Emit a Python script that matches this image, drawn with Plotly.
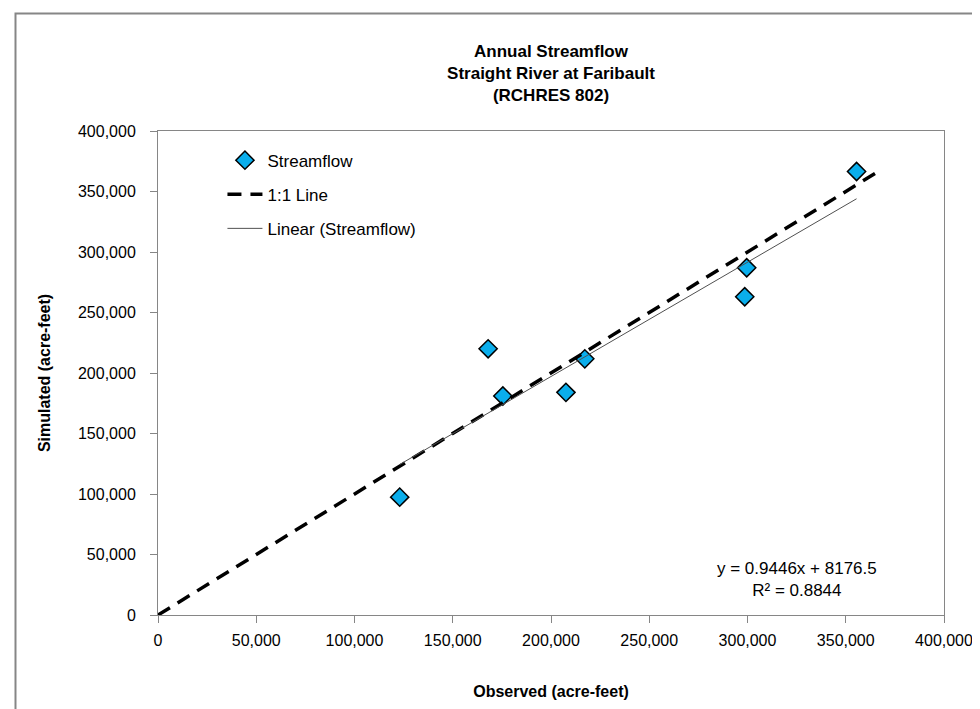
import plotly.graph_objects as go

# ---- data ----
observed = [123000, 168000, 175500, 207600, 217200, 298600, 299600, 355500]
simulated = [97400, 220000, 181000, 184000, 211700, 263000, 287000, 366500]

one_to_one_x = [0, 367000]
one_to_one_y = [0, 367000]

trend_slope = 0.9446
trend_intercept = 8176.5
r_squared = 0.8844

chart_title = ["Annual Streamflow", "Straight River at Faribault", "(RCHRES 802)"]
x_title = "Observed (acre-feet)"
y_title = "Simulated (acre-feet)"
tick_vals = [0, 50000, 100000, 150000, 200000, 250000, 300000, 350000, 400000]
tick_text = ["0", "50,000", "100,000", "150,000", "200,000", "250,000",
             "300,000", "350,000", "400,000"]

trend_x = [min(observed), max(observed)]
trend_y = [trend_slope * v + trend_intercept for v in trend_x]

FONT = "Liberation Sans, Arial, sans-serif"
TITLE_FONT = "Liberation Sans Narrow, Arial Narrow, Liberation Sans, Arial, sans-serif"
AXIS_GRAY = "#868686"

fig = go.Figure()

fig.add_trace(go.Scatter(
    x=observed, y=simulated, mode="markers", name="Streamflow",
    legendgroup="a",
    marker=dict(symbol="diamond", size=14, color="#0AAEEC",
                line=dict(color="#000000", width=1.5)),
))
fig.add_trace(go.Scatter(
    x=one_to_one_x, y=one_to_one_y, mode="lines", name="1:1 Line",
    legendgroup="b",
    line=dict(color="#000000", width=3.5, dash="14px,9px"),
))
fig.add_trace(go.Scatter(
    x=trend_x, y=trend_y, mode="lines", name="Linear (Streamflow)",
    legendgroup="c",
    line=dict(color="#505050", width=1),
))

axis_common = dict(
    range=[0, 400000], tickvals=tick_vals, ticktext=tick_text,
    showgrid=False, zeroline=False, automargin=False,
    showline=True, linecolor=AXIS_GRAY, linewidth=1, mirror=True,
    ticks="outside", ticklen=7, tickcolor=AXIS_GRAY, tickwidth=1,
    tickfont=dict(family=FONT, size=16, color="#000000"),
)

fig.update_layout(
    width=980, height=709,
    margin=dict(l=150, r=44, t=123, b=102),
    paper_bgcolor="white", plot_bgcolor="white",
    font=dict(family=FONT, size=16, color="#000000"),
    title=dict(
        text="<br>".join(chart_title),
        font=dict(family=TITLE_FONT, size=17, color="#000000", weight="bold"),
        x=0.5, xref="paper", xanchor="center",
        y=1 - 49 / 709, yref="container", yanchor="top",
        automargin=False,
    ),
    xaxis=dict(**axis_common, ticklabelstandoff=4,
               title=dict(text="<b>" + x_title + "</b>", standoff=37,
                          font=dict(family=FONT, size=16))),
    yaxis=dict(**axis_common, ticklabelstandoff=11,
               title=dict(text="<b>" + y_title + "</b>", standoff=23,
                          font=dict(family=FONT, size=16))),
    showlegend=True,
    legend=dict(
        x=0.082, y=0.976, xanchor="left", yanchor="top",
        bgcolor="rgba(0,0,0,0)", borderwidth=0,
        traceorder="grouped", tracegroupgap=9, itemwidth=35,
        font=dict(family=FONT, size=17, color="#000000"),
    ),
    annotations=[dict(
        text="y = %.4fx + %.1f<br>R² = %.4f" % (trend_slope, trend_intercept, r_squared),
        xref="paper", yref="paper", x=0.813, y=0.074,
        xanchor="center", yanchor="middle", showarrow=False,
        font=dict(family=FONT, size=17, color="#000000"),
    )],
    shapes=[dict(
        type="rect", xref="paper", yref="paper",
        x0=-0.1813, x1=1.3, y0=-0.6, y1=1.2427,
        line=dict(color=AXIS_GRAY, width=2), fillcolor="rgba(0,0,0,0)",
        layer="below",
    )],
)

fig.write_html("out.html")
